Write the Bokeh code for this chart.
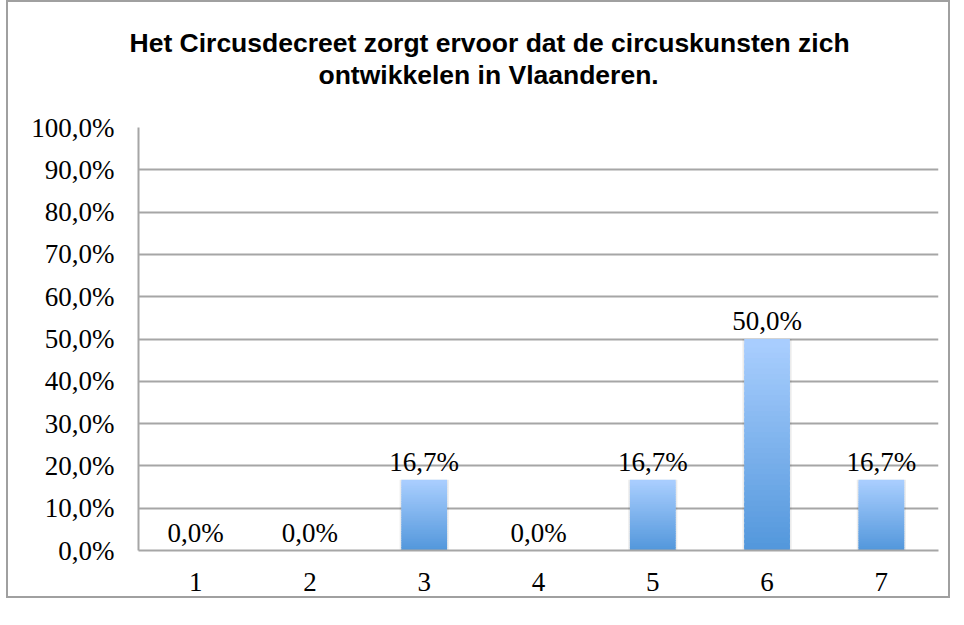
import numpy as np
from bokeh.plotting import figure
from bokeh.models import FactorRange, Range1d, FixedTicker, Title, ColumnDataSource
from bokeh.core.properties import value
from bokeh.embed import file_html
from bokeh.resources import INLINE

# ---- data ----
categories = ["1", "2", "3", "4", "5", "6", "7"]
percentages = [0.0, 0.0, 16.7, 0.0, 16.7, 50.0, 16.7]
y_ticks = [0, 10, 20, 30, 40, 50, 60, 70, 80, 90, 100]
y_tick_labels = ["0,0%", "10,0%", "20,0%", "30,0%", "40,0%", "50,0%",
                 "60,0%", "70,0%", "80,0%", "90,0%", "100,0%"]
title_line1 = "Het Circusdecreet zorgt ervoor dat de circuskunsten zich"
title_line2 = "ontwikkelen in Vlaanderen."

SERIF = "Liberation Serif"
SANS = "Liberation Sans"
GRID = "#A6A6A6"

p = figure(x_range=FactorRange(*categories), y_range=Range1d(0, 100),
           width=944, height=598, output_backend="svg", toolbar_location=None,
           title=None,
           min_border_left=130, min_border_right=14, min_border_top=125,
           min_border_bottom=50)
p.styles = {"border": "2px solid #A0A0A0", "position": "relative", "left": "6px"}
p.outline_line_color = None
p.background_fill_color = "white"
p.border_fill_color = "white"

# spacer between title and plot area, then the two title lines
p.add_layout(Title(text=" ", text_font_size="10px", standoff=25), "above")
p.add_layout(Title(text=title_line2, align="left", offset=180,
                   text_font=SANS, text_font_style="bold",
                   text_font_size="26.5px", text_color="black", standoff=0), "above")
p.add_layout(Title(text=title_line1, align="left", offset=-9,
                   text_font=SANS, text_font_style="bold",
                   text_font_size="26.5px", text_color="black", standoff=0), "above")

# axes
p.yaxis.ticker = FixedTicker(ticks=y_ticks)
p.yaxis.major_label_overrides = {t: l for t, l in zip(y_ticks, y_tick_labels)}
for ax in (p.xaxis[0], p.yaxis[0]):
    ax.major_tick_line_color = None
    ax.minor_tick_line_color = None
    ax.major_tick_out = 0
    ax.major_tick_in = 0
    ax.axis_line_color = GRID
    ax.axis_line_width = 2
    ax.major_label_text_font = SERIF
    ax.major_label_text_font_size = "27px"
    ax.major_label_text_color = "black"
p.yaxis.major_label_standoff = 24
p.xaxis.major_label_standoff = 22
p.xgrid.grid_line_color = None
p.ygrid.ticker = FixedTicker(ticks=y_ticks)
p.ygrid.grid_line_color = GRID
p.ygrid.grid_line_width = 2

# soft shadow behind bars
p.vbar(x=categories, top=percentages, bottom=0, width=0.43,
       fill_color="#000000", fill_alpha=0.08, line_color=None)

# gradient bars built as overlapping thin slices of each bar
N = 40
top_rgb = np.array([0xA9, 0xCE, 0xFE])
bot_rgb = np.array([0x51, 0x96, 0xDB])
xs, bots, tops, cols = [], [], [], []
for c, v in zip(categories, percentages):
    if v <= 0:
        continue
    for k in range(N):
        f = (k + 0.5) / N
        rgb = bot_rgb + (top_rgb - bot_rgb) * f
        xs.append(c)
        bots.append(max(0.0, v * (k - 0.6) / N))
        tops.append(v * (k + 1) / N)
        cols.append("#%02x%02x%02x" % tuple(int(round(x)) for x in rgb))
p.vbar(x=xs, bottom=bots, top=tops, width=0.40, fill_color=cols, line_color=None)

# data labels
lab_src = ColumnDataSource(dict(
    x=categories, y=percentages,
    t=[("%.1f%%" % v).replace(".", ",") for v in percentages]))
p.text(x="x", y="y", text="t", source=lab_src, text_align="center",
       text_baseline="alphabetic", y_offset=-18, text_font=value(SERIF),
       text_font_size="27px", text_color="black")

open("out.html", "w").write(file_html(p, INLINE))
